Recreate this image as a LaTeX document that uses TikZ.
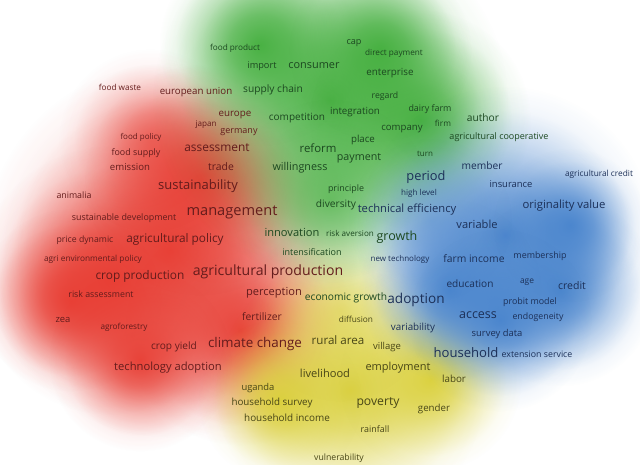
\documentclass[tikz,border=0pt]{standalone}
\usepackage{fontspec}
\setmainfont{Open Sans}
\usepackage{tikz}
\usetikzlibrary{fadings}

\definecolor{blobred}{RGB}{232,62,52}
\definecolor{blobgreen}{RGB}{68,175,62}
\definecolor{blobblue}{RGB}{72,132,205}
\definecolor{blobyel}{RGB}{218,208,58}
\definecolor{txtred}{RGB}{100,28,28}
\definecolor{txtgreen}{RGB}{28,72,32}
\definecolor{txtblue}{RGB}{28,48,88}
\definecolor{txtyel}{RGB}{72,70,22}

% soft round density spot (fitted to the path box)
\pgfdeclareradialshading{blobshade}{\pgfpointorigin}{color(0bp)=(pgftransparent!0); color(7bp)=(pgftransparent!25); color(14bp)=(pgftransparent!65); color(20bp)=(pgftransparent!93); color(24bp)=(pgftransparent!100); color(30bp)=(pgftransparent!100)}
\pgfdeclarefading{blobfade}{\pgfuseshading{blobshade}}

\begin{document}
\begin{tikzpicture}[x=1pt, y=-1pt,
    sz/.style={font=\fontsize{#1}{#1}\selectfont},
    rw/.style={text=txtred, inner sep=0pt},
    gw/.style={text=txtgreen, inner sep=0pt},
    bw/.style={text=txtblue, inner sep=0pt},
    yw/.style={text=txtyel, inner sep=0pt},
    blob/.style={fill=#1, path fading=blobfade, fill opacity=0.95}]
    \fill[white] (0,0) rectangle (640,465);
    \useasboundingbox (0,0) rectangle (640,465);

    % Density: red cluster
    \fill[blob=blobred] (170,250) circle (195);
    \fill[blob=blobred] (110,280) circle (140);
    \fill[blob=blobred] (70,300) circle (95);
    \fill[blob=blobred] (240,330) circle (120);
    \fill[blob=blobred] (200,180) circle (120);
    \fill[blob=blobred, fill opacity=0.6] (150,140) circle (95);
    \fill[blob=blobred] (140,360) circle (95);

    % Density: yellow cluster
    \fill[blob=blobyel] (350,390) circle (140);
    \fill[blob=blobyel] (430,380) circle (95);
    \fill[blob=blobyel] (280,400) circle (85);
    \fill[blob=blobyel, fill opacity=0.6] (340,310) circle (95);

    % Density: green cluster
    \fill[blob=blobgreen] (330,100) circle (185);
    \fill[blob=blobgreen] (260,45) circle (105);
    \fill[blob=blobgreen] (420,120) circle (115);
    \fill[blob=blobgreen] (380,50) circle (95);
    \fill[blob=blobgreen, fill opacity=0.7] (330,200) circle (105);

    % Density: blue cluster
    \fill[blob=blobblue] (505,235) circle (155);
    \fill[blob=blobblue] (560,290) circle (100);
    \fill[blob=blobblue] (450,290) circle (95);
    \fill[blob=blobblue] (570,225) circle (80);
    \fill[blob=blobblue, fill opacity=0.5] (430,220) circle (85);
    \fill[blob=blobblue] (500,320) circle (95);

    % Red cluster terms
    \node[rw, sz=8.2] (foodwaste) at (120,87) {food waste};
    \node[rw, sz=9.7] (euunion) at (196,92) {european union};
    \node[rw, sz=9.8] (europe) at (235,115) {europe};
    \node[rw, sz=8.1] (japan) at (206,125) {japan};
    \node[rw, sz=9.0] (germany) at (239,132) {germany};
    \node[rw, sz=8.0] (foodpolicy) at (141,137) {food policy};
    \node[rw, sz=8.9] (foodsupply) at (136,153) {food supply};
    \node[rw, sz=11.9] (assessment) at (217,148) {assessment};
    \node[rw, sz=9.6] (emission) at (130,167) {emission};
    \node[rw, sz=10.4] (trade) at (221,167) {trade};
    \node[rw, sz=13] (sustain) at (198,186) {sustainability};
    \node[rw, sz=8.8] (animalia) at (74,195) {animalia};
    \node[rw, sz=14.6] (management) at (232,212) {management};
    \node[rw, sz=8.9] (sustdev) at (124,218) {sustainable development};
    \node[rw, sz=8.7] (pricedyn) at (85,240) {price dynamic};
    \node[rw, sz=11.8] (agripolicy) at (175,239) {agricultural policy};
    \node[rw, sz=8.3] (agrienv) at (93,259) {agri environmental policy};
    \node[rw, sz=11.9] (cropprod) at (140,276) {crop production};
    \node[rw, sz=14.1] (agriprod) at (268,272) {agricultural production};
    \node[rw, sz=8.8] (riskassess) at (101,294) {risk assessment};
    \node[rw, sz=11.1] (perception) at (274,293) {perception};
    \node[rw, sz=9.4] (zea) at (63,320) {zea};
    \node[rw, sz=8.2] (agroforestry) at (124,327) {agroforestry};
    \node[rw, sz=10.3] (fertilizer) at (262,317) {fertilizer};
    \node[rw, sz=10.1] (cropyield) at (174,347) {crop yield};
    \node[rw, sz=13.4] (climate) at (255,344) {climate change};
    \node[rw, sz=11.2] (techadopt) at (168,368) {technology adoption};

    % Green cluster terms
    \node[gw, sz=8.2] (foodprod) at (235,48) {food product};
    \node[gw, sz=9.2] (import) at (262,66) {import};
    \node[gw, sz=10.9] (consumer) at (314,66) {consumer};
    \node[gw, sz=10.2] (supplychain) at (273,90) {supply chain};
    \node[gw, sz=10] (competition) at (297,118) {competition};
    \node[gw, sz=11.4] (reform) at (318,148) {reform};
    \node[gw, sz=9.1] (cap) at (354,43) {cap};
    \node[gw, sz=8.2] (directpay) at (394,53) {direct payment};
    \node[gw, sz=9.8] (enterprise) at (390,73) {enterprise};
    \node[gw, sz=8.7] (regard) at (385,96) {regard};
    \node[gw, sz=9.8] (integration) at (355,112) {integration};
    \node[gw, sz=8.9] (dairyfarm) at (430,109) {dairy farm};
    \node[gw, sz=10.2] (author) at (483,118) {author};
    \node[gw, sz=8.3] (firm) at (443,123) {firm};
    \node[gw, sz=9.6] (company) at (402,129) {company};
    \node[gw, sz=9.0] (agricoop) at (499,137) {agricultural cooperative};
    \node[gw, sz=9.7] (place) at (363,140) {place};
    \node[gw, sz=10.7] (payment) at (359,158) {payment};
    \node[gw, sz=8.0] (turn) at (425,154) {turn};
    \node[gw, sz=10.8] (willingness) at (300,168) {willingness};
    \node[gw, sz=8.9] (principle) at (346,189) {principle};
    \node[gw, sz=10.2] (diversity) at (336,205) {diversity};
    \node[gw, sz=11.1] (innovation) at (292,232) {innovation};
    \node[gw, sz=8.1] (riskaversion) at (350,233) {risk aversion};
    \node[gw, sz=12.5] (growth) at (397,237) {growth};
    \node[gw, sz=9.0] (intensif) at (312,252) {intensification};
    \node[gw, sz=10.2] (econgrowth) at (346,298) {economic growth};

    % Blue cluster terms
    \node[bw, sz=10.2] (member) at (482,166) {member};
    \node[bw, sz=8.3] (agricredit) at (599,174) {agricultural credit};
    \node[bw, sz=12.8] (period) at (426,177) {period};
    \node[bw, sz=9.4] (insurance) at (511,184) {insurance};
    \node[bw, sz=8.1] (highlevel) at (419,193) {high level};
    \node[bw, sz=11.2] (techeff) at (407,210) {technical efficiency};
    \node[bw, sz=11.3] (origvalue) at (564,206) {originality value};
    \node[bw, sz=11.1] (variable) at (477,224) {variable};
    \node[bw, sz=8.0] (newtech) at (400,259) {new technology};
    \node[bw, sz=10.3] (farmincome) at (474,259) {farm income};
    \node[bw, sz=8.9] (membership) at (540,256) {membership};
    \node[bw, sz=10.1] (education) at (470,284) {education};
    \node[bw, sz=8.4] (age) at (527,282) {age};
    \node[bw, sz=10.5] (credit) at (572,286) {credit};
    \node[bw, sz=13.6] (adoption) at (416,300) {adoption};
    \node[bw, sz=8.9] (probit) at (530,302) {probit model};
    \node[bw, sz=12.5] (access) at (478,315) {access};
    \node[bw, sz=8.8] (endogeneity) at (538,317) {endogeneity};
    \node[bw, sz=9.8] (variability) at (413,328) {variability};
    \node[bw, sz=9.4] (surveydata) at (497,334) {survey data};
    \node[bw, sz=13.1] (household) at (466,353) {household};
    \node[bw, sz=8.8] (extension) at (537,354) {extension service};

    % Yellow cluster terms
    \node[yw, sz=11.6] (ruralarea) at (338,340) {rural area};
    \node[yw, sz=8.3] (diffusion) at (356,319) {diffusion};
    \node[yw, sz=9.5] (village) at (387,347) {village};
    \node[yw, sz=11.1] (livelihood) at (325,373) {livelihood};
    \node[yw, sz=11.0] (employment) at (398,368) {employment};
    \node[yw, sz=9.8] (labor) at (454,379) {labor};
    \node[yw, sz=9.4] (uganda) at (258,388) {uganda};
    \node[yw, sz=9.8] (hhsurvey) at (272,403) {household survey};
    \node[yw, sz=9.9] (hhincome) at (287,418) {household income};
    \node[yw, sz=12.2] (poverty) at (378,403) {poverty};
    \node[yw, sz=9.7] (gender) at (434,409) {gender};
    \node[yw, sz=8.9] (rainfall) at (375,429) {rainfall};
    \node[yw, sz=8.7] (vulnerab) at (339,458) {vulnerability};
\end{tikzpicture}
\end{document}
